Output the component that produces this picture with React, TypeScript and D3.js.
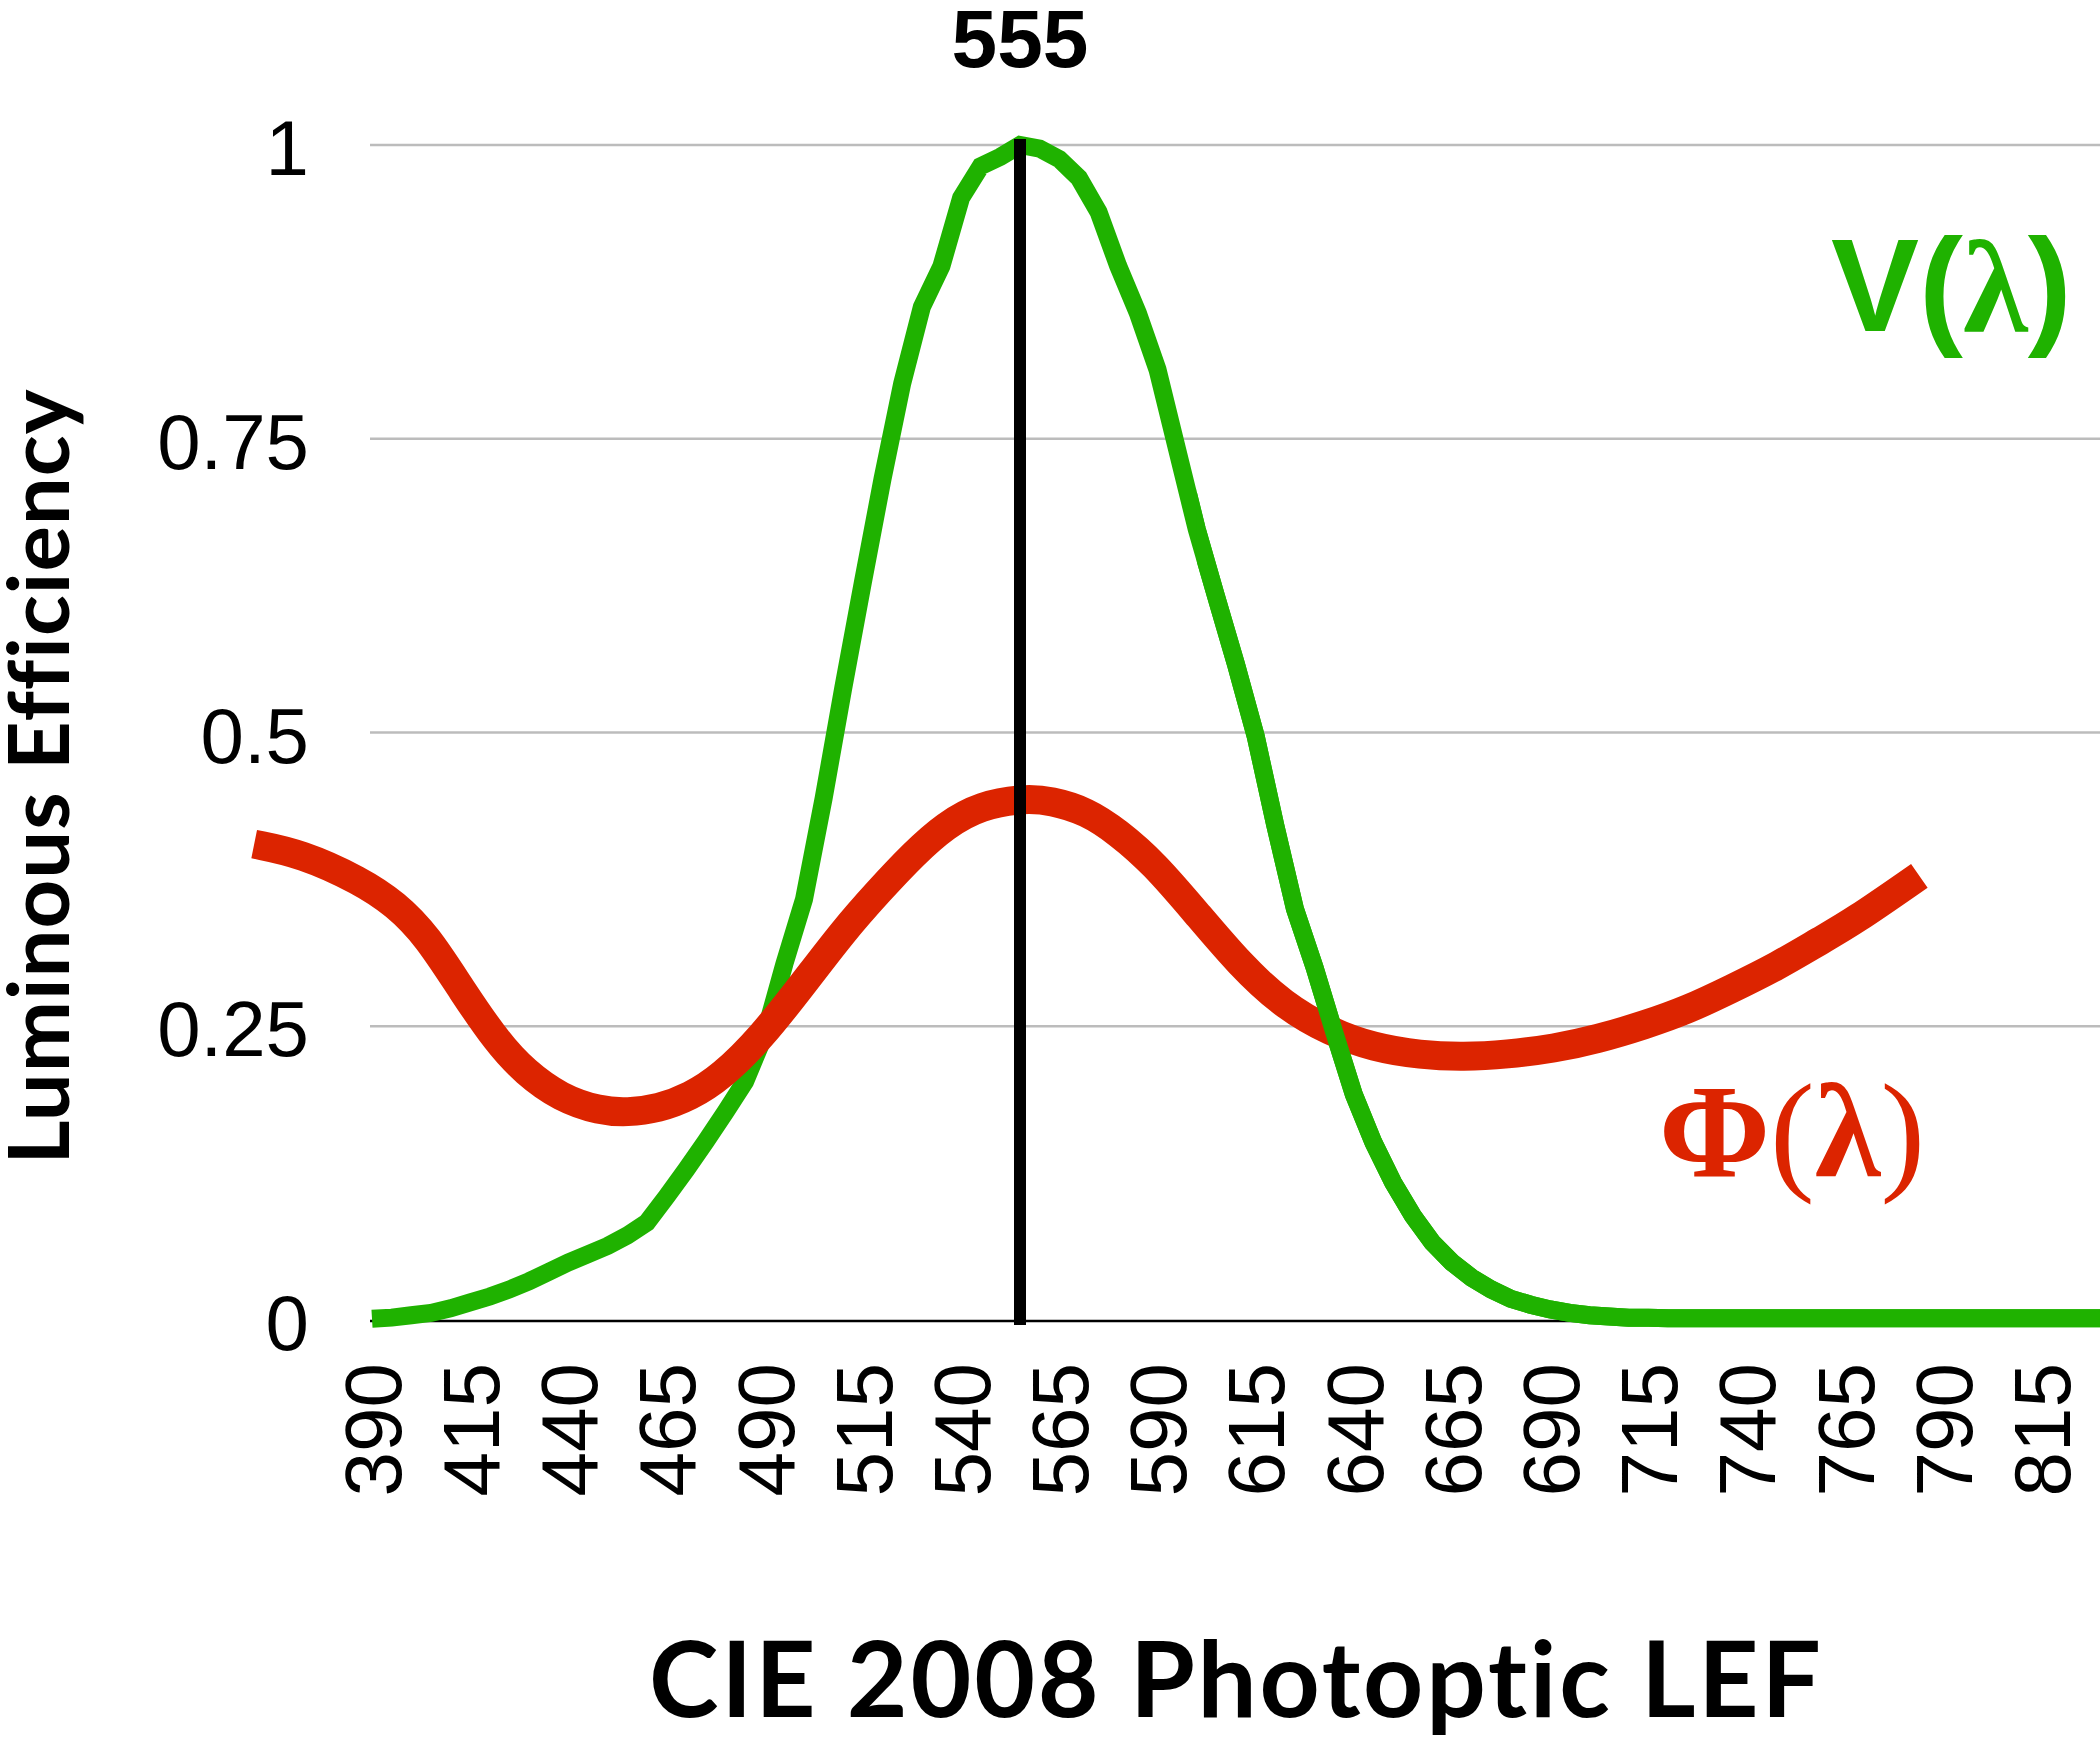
import React, { useEffect } from "react";
import * as d3 from "d3";

const WIDTH = 2100;
const HEIGHT = 1739;

// CIE 2008 photopic luminous efficiency, 5 nm steps
const wavelengths = [
  390, 395, 400, 405, 410, 415, 420, 425, 430, 435, 440, 445, 450, 455, 460, 465, 470, 475, 480, 485,
  490, 495, 500, 505, 510, 515, 520, 525, 530, 535, 540, 545, 550, 555, 560, 565, 570, 575, 580, 585,
  590, 595, 600, 605, 610, 615, 620, 625, 630, 635, 640, 645, 650, 655, 660, 665, 670, 675, 680, 685,
  690, 695, 700, 705, 710, 715, 720, 725, 730, 735, 740, 745, 750, 755, 760, 765, 770, 775, 780, 785,
  790, 795, 800, 805, 810, 815, 820, 825, 830,
];
const vLambda = [
  0.001, 0.002, 0.004, 0.006, 0.010, 0.015, 0.020, 0.026, 0.033, 0.041, 0.049, 0.056, 0.063, 0.072, 0.083, 0.105, 0.128, 0.152, 0.177, 0.203,
  0.243, 0.303, 0.358, 0.444, 0.538, 0.628, 0.716, 0.797, 0.862, 0.897, 0.955, 0.982, 0.990, 1.000, 0.997, 0.988, 0.972, 0.943, 0.897, 0.857,
  0.809, 0.741, 0.673, 0.615, 0.558, 0.497, 0.421, 0.350, 0.300, 0.245, 0.192, 0.151, 0.117, 0.089, 0.066, 0.049, 0.036, 0.026, 0.018, 0.013,
  0.009, 0.006, 0.004, 0.003, 0.002, 0.002, 0.0015, 0.0015, 0.0015, 0.0015, 0.0015, 0.0015, 0.0015, 0.0015, 0.0015, 0.0015, 0.0015, 0.0015, 0.0015, 0.0015,
  0.0015, 0.0015, 0.0015, 0.0015, 0.0015, 0.0015, 0.0015, 0.0015, 0.0015,
];

// Φ(λ) overlay curve
const phiWavelengths = [
  360, 372, 387, 396, 404, 413, 422, 429, 438, 448, 455, 463, 471, 479, 489, 500, 510, 519, 528, 536,
  545, 556, 563, 572, 580, 589, 600, 611, 622, 634, 645, 657, 668, 679, 691, 702, 714, 725, 736, 748,
  759, 767, 784,
];
const phiValues = [
  0.405, 0.397, 0.374, 0.354, 0.327, 0.280, 0.236, 0.211, 0.189, 0.178, 0.1765, 0.180, 0.190, 0.207, 0.240, 0.287, 0.331, 0.365, 0.397, 0.421,
  0.438, 0.444, 0.442, 0.433, 0.415, 0.389, 0.346, 0.3025, 0.268, 0.245, 0.232, 0.2254, 0.2238, 0.226, 0.231, 0.239, 0.251, 0.264, 0.2816, 0.3014,
  0.3234, 0.3385, 0.378,
];

const xTickValues = [390, 415, 440, 465, 490, 515, 540, 565, 590, 615, 640, 665, 690, 715, 740, 765, 790, 815];
const yTickValues = [0, 0.25, 0.5, 0.75, 1];
const yTickLabels = ["0", "0.25", "0.5", "0.75", "1"];
const peakWavelength = 555;
const peakLabel = "555";
const yTitle = "Luminous Efficiency";
const xTitle = "CIE 2008 Photoptic LEF";

const GREEN = "#1fb200";
const RED = "#dc2400";
const SANS = "'Liberation Sans', Arial, Helvetica, sans-serif";
const SERIF = "'Liberation Serif', 'Times New Roman', Times, serif";
const TITLE = "Lato, 'Noto Sans', sans-serif";
const NO_LIGA = { fontVariantLigatures: "none", fontFeatureSettings: "'liga' 0, 'clig' 0, 'dlig' 0" } as React.CSSProperties;

export default function App() {
  useEffect(() => {
    document.body.style.margin = "0";
  }, []);

  const x = d3.scaleLinear().domain([390, 830]).range([372, 2100]);
  const y = d3.scaleLinear().domain([0, 1]).range([1320, 145]);

  const greenData: [number, number][] = wavelengths.map((w, i) => [w, vLambda[i]]);
  const redData: [number, number][] = phiWavelengths.map((w, i) => [w, phiValues[i]]);

  const greenLine = d3
    .line<[number, number]>()
    .x((d) => x(d[0]))
    .y((d) => y(d[1]));
  const redLine = d3
    .line<[number, number]>()
    .x((d) => x(d[0]))
    .y((d) => y(d[1]))
    .curve(d3.curveBasis);

  const gridX0 = x.range()[0] - 2;
  const gridX1 = x.range()[1];
  const greenPath = greenLine(greenData) || "";
  const redPath = redLine(redData) || "";

  return (
    <svg
      width={WIDTH}
      height={HEIGHT}
      viewBox={`0 0 ${WIDTH} ${HEIGHT}`}
      style={{ display: "block", position: "absolute", left: 0, top: 0, background: "#fff" }}
      fontFamily={SANS}
    >
      <defs>
        <clipPath id="rightPart">
          <rect x={x(600)} y={0} width={WIDTH - x(600)} height={HEIGHT} />
        </clipPath>
      </defs>
      <rect x={0} y={0} width={WIDTH} height={HEIGHT} fill="#fff" />

      {/* gridlines */}
      {yTickValues.slice(1).map((t) => (
        <line key={t} x1={gridX0} x2={gridX1} y1={y(t)} y2={y(t)} stroke="#bcbcbc" strokeWidth={2.5} />
      ))}
      {/* x axis line */}
      <line x1={gridX0} x2={gridX1} y1={y(0) + 1} y2={y(0) + 1} stroke="#000" strokeWidth={2.5} />

      {/* y tick labels */}
      {yTickValues.map((t, i) => (
        <text key={t} x={309} y={y(t) + 30} textAnchor="end" fontSize={78} fill="#000">
          {yTickLabels[i]}
        </text>
      ))}

      {/* x tick labels */}
      {xTickValues.map((t) => (
        <text
          key={t}
          transform={`translate(${x(t)},${y(0) + 43}) rotate(-90)`}
          textAnchor="end"
          dy="0.36em"
          fontSize={80}
          fill="#000"
        >
          {t}
        </text>
      ))}

      {/* V(λ) curve */}
      <path d={greenPath} fill="none" stroke={GREEN} strokeWidth={18} strokeLinejoin="miter" />
      {/* Φ(λ) curve */}
      <path d={redPath} fill="none" stroke={RED} strokeWidth={29} strokeLinecap="butt" />
      {/* green over red on the long-wave side */}
      <path d={greenPath} fill="none" stroke={GREEN} strokeWidth={18} clipPath="url(#rightPart)" />

      {/* peak marker */}
      <line
        x1={x(peakWavelength)}
        x2={x(peakWavelength)}
        y1={y(0) + 5}
        y2={y(1) - 6}
        stroke="#000"
        strokeWidth={12}
      />
      <text x={x(peakWavelength)} y={67} textAnchor="middle" fontSize={82} fontWeight="bold" fill="#000">
        {peakLabel}
      </text>

      {/* legend labels */}
      <text x={1831} y={331} fontSize={132} fill={GREEN}>
        <tspan fontFamily={SANS} fontWeight="bold">V(</tspan>
        <tspan fontFamily={SERIF} fontWeight="bold">λ</tspan>
        <tspan fontFamily={SANS} fontWeight="bold">)</tspan>
      </text>
      <text x={1659} y={1176} fontSize={134} fill={RED} fontFamily={SERIF}>
        <tspan fontWeight="bold">Φ</tspan>
        <tspan fontWeight="normal">(</tspan>
        <tspan fontWeight="bold">λ</tspan>
        <tspan fontWeight="normal">)</tspan>
      </text>

      {/* axis titles */}
      <text
        transform="translate(69,777) rotate(-90)"
        textAnchor="middle"
        fontFamily={TITLE}
        fontWeight={700}
        fontSize={85}
        fill="#000"
        textLength={775}
        lengthAdjust="spacing"
        style={NO_LIGA}
      >
        {yTitle}
      </text>
      <text
        x={1235}
        y={1717}
        textAnchor="middle"
        fontFamily={TITLE}
        fontWeight={700}
        fontSize={105}
        fill="#000"
        textLength={1172}
        lengthAdjust="spacing"
        style={NO_LIGA}
      >
        {xTitle}
      </text>
    </svg>
  );
}
